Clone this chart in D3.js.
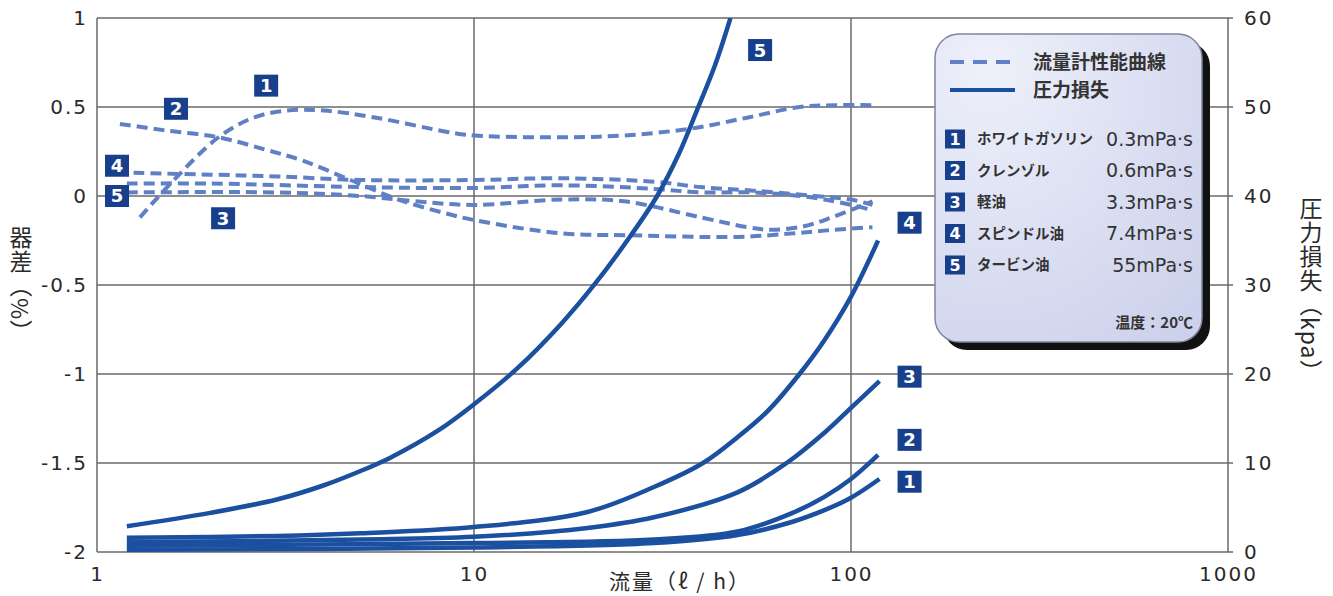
<!DOCTYPE html>
<html>
<head>
<meta charset="utf-8">
<script src="https://cdn.jsdelivr.net/npm/d3@7"></script>
<style>
  body { margin: 0; background: #fff; }
  svg { display: block; }
</style>
</head>
<body>
<script>
// Axis ticks
const flowTicks = [1, 10, 100, 1000]
const errorTicks = [1, 0.5, 0, -0.5, -1, -1.5, -2]
const lossTicks = [60, 50, 40, 30, 20, 10, 0]

// Legend entries
const fluidIds = [1, 2, 3, 4, 5]
const fluidNames = ['ホワイトガソリン', 'クレンゾル', '軽油', 'スピンドル油', 'タービン油']
const viscosities = ['0.3mPa·s', '0.6mPa·s', '3.3mPa·s', '7.4mPa·s', '55mPa·s']

// Meter error (%) : [flow l/h, error %]
const error1 = [[1.3, -0.12], [1.6, 0.09], [2.1, 0.33], [2.6, 0.44], [3.2, 0.48], [4, 0.48], [5.5, 0.44], [8.5, 0.36], [10, 0.34], [17, 0.33], [25, 0.34], [38, 0.38], [53, 0.44], [73, 0.5], [90, 0.51], [114, 0.51]]
const error2 = [[1.15, 0.405], [1.5, 0.37], [2.1, 0.33], [2.8, 0.26], [3.5, 0.2], [4.7, 0.09], [6.3, -0.02], [8.5, -0.1], [10, -0.135], [17, -0.21], [25, -0.22], [50, -0.23], [70, -0.21], [90, -0.19], [114, -0.175]]
const error3 = [[1.2, 0.02], [3, 0.02], [5, 0.0], [7, -0.03], [10, -0.05], [17, -0.02], [25, -0.03], [40, -0.12], [53, -0.175], [62, -0.19], [75, -0.17], [89, -0.12], [114, -0.03]]
const error4 = [[1.25, 0.13], [2, 0.12], [3, 0.11], [5, 0.09], [10, 0.09], [17, 0.1], [30, 0.08], [40, 0.05], [55, 0.03], [80, 0.0], [100, -0.02], [114, -0.05]]
const error5 = [[1.2, 0.07], [2, 0.07], [5, 0.05], [10, 0.045], [17, 0.06], [30, 0.04], [40, 0.02], [55, 0.02], [80, -0.01], [100, -0.05], [114, -0.08]]

// Pressure loss (kPa) : [flow l/h, loss kPa]
const loss1 = [[1.2, 0.25], [10, 0.5], [30, 1.0], [50, 1.9], [70, 3.4], [85, 4.7], [100, 6.1], [119, 8.2]]
const loss2 = [[1.2, 0.7], [10, 1.0], [30, 1.4], [50, 2.3], [70, 4.4], [85, 6.2], [100, 8.2], [118, 10.9]]
const loss3 = [[1.2, 1.1], [5, 1.4], [10, 1.7], [20, 2.7], [30, 3.9], [50, 6.7], [67.5, 10], [85, 13.4], [100, 16.2], [119, 19.2]]
const loss4 = [[1.2, 1.6], [3, 1.8], [5, 2.1], [10, 2.8], [20, 4.5], [30, 7.3], [40.5, 10], [50, 12.9], [60, 15.8], [73, 20], [85, 23.8], [100, 28.7], [118, 35]]
const loss5 = [[1.2, 2.9], [2, 4.4], [3, 5.9], [4, 7.5], [5, 9.1], [6, 10.6], [8, 13.6], [10, 16.6], [13, 20.6], [17, 25.6], [21, 30.2], [26, 35.5], [30.6, 40], [35, 44.8], [39, 49.6], [43.5, 54.6], [47.9, 60]]

// Number tags next to the curves : [id, flow, value]
const errorTags = [[1, 2.81, 0.62], [2, 1.62, 0.49], [3, 2.16, -0.125], [4, 1.13, 0.17], [5, 1.13, 0]]
const lossTags = [[1, 143, 7.9], [2, 143, 12.6], [3, 143, 19.7], [4, 143, 37], [5, 57.4, 56.4]]

const errorSeries = [error1, error2, error3, error4, error5]
const lossSeries = [loss1, loss2, loss3, loss4, loss5]

const width = 1333
const height = 596
const margin = {left: 97, right: 105, top: 18, bottom: 44}

const solidColour = '#1b4f9f'
const dashColour = '#5f80c4'
const tagColour = '#173f8c'
const gridColour = '#6a6a6a'
const textColour = '#2a2a2a'
const numFont = '"DejaVu Sans", sans-serif'
const jpFont = '"Noto Sans CJK JP", "Noto Sans", sans-serif'

const svg = d3.select('body').append('svg')
  .attr('width', width)
  .attr('height', height)

// Scales
const x = d3.scaleLog().domain([1, 1000]).range([margin.left, width - margin.right])
const yL = d3.scaleLinear().domain([-2, 1]).range([height - margin.bottom, margin.top])
const yR = d3.scaleLinear().domain([0, 60]).range([height - margin.bottom, margin.top])

// Grid
const gGrid = svg.append('g')
  .attr('stroke', gridColour)
  .attr('stroke-width', 1.5)
gGrid.selectAll('.hgrid')
  .data(errorTicks)
  .join('line')
  .attr('x1', x(1)).attr('x2', x(1000) + 5)
  .attr('y1', d => yL(d)).attr('y2', d => yL(d))
gGrid.selectAll('.vgrid')
  .data(flowTicks)
  .join('line')
  .attr('x1', d => x(d)).attr('x2', d => x(d))
  .attr('y1', yL(1)).attr('y2', yL(-2))

// Axes (labels only, the frame is the grid)
const axisL = svg.append('g')
  .attr('transform', `translate(${x(1)},0)`)
  .call(d3.axisLeft(yL).tickValues(errorTicks).tickFormat(d => String(d)).tickSize(0).tickPadding(9))
const axisR = svg.append('g')
  .attr('transform', `translate(${x(1000)},0)`)
  .call(d3.axisRight(yR).tickValues(lossTicks).tickFormat(d => String(d)).tickSize(0).tickPadding(16))
const axisB = svg.append('g')
  .attr('transform', `translate(0,${yL(-2)})`)
  .call(d3.axisBottom(x).tickValues(flowTicks).tickFormat(d => String(d)).tickSize(0).tickPadding(15))

;[axisL, axisR, axisB].forEach(a => {
  a.select('.domain').remove()
  a.selectAll('text')
    .style('font-family', numFont)
    .style('font-size', '20px')
    .style('letter-spacing', '2px')
    .attr('fill', textColour)
})

// Vertical axis titles
function verticalTitle(cx, top, label) {
  svg.append('text')
    .attr('x', cx)
    .attr('y', top)
    .style('writing-mode', 'vertical-rl')
    .style('text-orientation', 'mixed')
    .style('font-family', jpFont)
    .style('font-size', '23px')
    .style('letter-spacing', '1px')
    .attr('text-anchor', 'start')
    .attr('fill', textColour)
    .text(label)
}
verticalTitle(21, 226, '器差（%）')
verticalTitle(1311, 197, '圧力損失（kpa）')

svg.append('text')
  .attr('x', 680)
  .attr('y', 589)
  .style('font-family', jpFont)
  .style('font-size', '21px')
  .style('letter-spacing', '2px')
  .attr('text-anchor', 'middle')
  .attr('fill', textColour)
  .text('流量（ℓ / h）')

// Clip to plot area
svg.append('clipPath').attr('id', 'plot-clip')
  .append('rect')
  .attr('x', x(1)).attr('y', yL(1))
  .attr('width', x(1000) - x(1)).attr('height', yL(-2) - yL(1))

const gChart = svg.append('g').attr('clip-path', 'url(#plot-clip)')

const errorLine = d3.line()
  .x(d => x(d[0]))
  .y(d => yL(d[1]))
  .curve(d3.curveCatmullRom.alpha(0.5))

const lossLine = d3.line()
  .x(d => x(d[0]))
  .y(d => yR(d[1]))
  .curve(d3.curveCatmullRom.alpha(0.5))

gChart.selectAll('.error')
  .data(errorSeries)
  .join('path')
  .attr('class', 'error')
  .attr('d', errorLine)
  .attr('fill', 'none')
  .attr('stroke', dashColour)
  .attr('stroke-width', 4)
  .attr('stroke-dasharray', '11,6')

gChart.selectAll('.loss')
  .data(lossSeries)
  .join('path')
  .attr('class', 'loss')
  .attr('d', lossLine)
  .attr('fill', 'none')
  .attr('stroke', solidColour)
  .attr('stroke-width', 4.5)

// Number tags
function drawTag(g, id, cx, cy, w, h, fs) {
  g.append('rect')
    .attr('x', cx - w / 2).attr('y', cy - h / 2)
    .attr('width', w).attr('height', h)
    .attr('fill', tagColour)
  g.append('text')
    .attr('x', cx).attr('y', cy)
    .attr('dy', '0.36em')
    .attr('text-anchor', 'middle')
    .style('font-family', numFont)
    .style('font-weight', 'bold')
    .style('font-size', fs + 'px')
    .attr('fill', '#fff')
    .text(id)
}
const gTags = svg.append('g')
errorTags.forEach(d => drawTag(gTags, d[0], x(d[1]), yL(d[2]), 24, 22, 18))
lossTags.forEach(d => drawTag(gTags, d[0], x(d[1]), yR(d[2]), 24, 22, 18))

// Legend
const lg = svg.append('g').attr('transform', 'translate(935,34)')
const lgW = 267
const lgH = 308

const defs = svg.append('defs')
const grad = defs.append('radialGradient')
  .attr('id', 'legend-fill')
  .attr('cx', '20%').attr('cy', '10%').attr('r', '110%')
grad.append('stop').attr('offset', '0%').attr('stop-color', '#eef0fa')
grad.append('stop').attr('offset', '100%').attr('stop-color', '#cdd2ec')

lg.append('rect')
  .attr('x', 8).attr('y', 8)
  .attr('width', lgW).attr('height', lgH)
  .attr('rx', 24)
  .attr('fill', '#111')
lg.append('rect')
  .attr('width', lgW).attr('height', lgH)
  .attr('rx', 24)
  .attr('fill', 'url(#legend-fill)')
  .attr('stroke', '#80859e')
  .attr('stroke-width', 1.5)

lg.append('line')
  .attr('x1', 15).attr('x2', 80).attr('y1', 28).attr('y2', 28)
  .attr('stroke', dashColour).attr('stroke-width', 4)
  .attr('stroke-dasharray', '14,9')
lg.append('line')
  .attr('x1', 15).attr('x2', 80).attr('y1', 56).attr('y2', 56)
  .attr('stroke', solidColour).attr('stroke-width', 4)

lg.append('text')
  .attr('x', 98).attr('y', 28).attr('dy', '0.36em')
  .style('font-family', jpFont).style('font-size', '19px').style('font-weight', 'bold')
  .attr('fill', '#333')
  .text('流量計性能曲線')
lg.append('text')
  .attr('x', 98).attr('y', 56).attr('dy', '0.36em')
  .style('font-family', jpFont).style('font-size', '19px').style('font-weight', 'bold')
  .attr('fill', '#333')
  .text('圧力損失')

const rowY = d3.scaleLinear().domain([1, 5]).range([105, 231])
const rows = lg.selectAll('.row')
  .data(fluidIds)
  .join('g')
  .attr('class', 'row')
  .attr('transform', d => `translate(0,${rowY(d)})`)
rows.each(function (d) {
  drawTag(d3.select(this), d, 20, 0, 20, 19, 16)
})
rows.append('text')
  .attr('x', 42).attr('dy', '0.36em')
  .style('font-family', jpFont).style('font-size', '14.5px').style('font-weight', 'bold')
  .attr('fill', '#333')
  .text((d, i) => fluidNames[i])
rows.append('text')
  .attr('x', 258).attr('dy', '0.36em')
  .attr('text-anchor', 'end')
  .style('font-family', numFont).style('font-size', '19px')
  .attr('fill', '#333')
  .text((d, i) => viscosities[i])

lg.append('text')
  .attr('x', 258).attr('y', 289).attr('dy', '0.36em')
  .attr('text-anchor', 'end')
  .style('font-family', jpFont).style('font-size', '15px').style('font-weight', 'bold')
  .attr('fill', '#333')
  .text('温度：20℃')
</script>
</body>
</html>
